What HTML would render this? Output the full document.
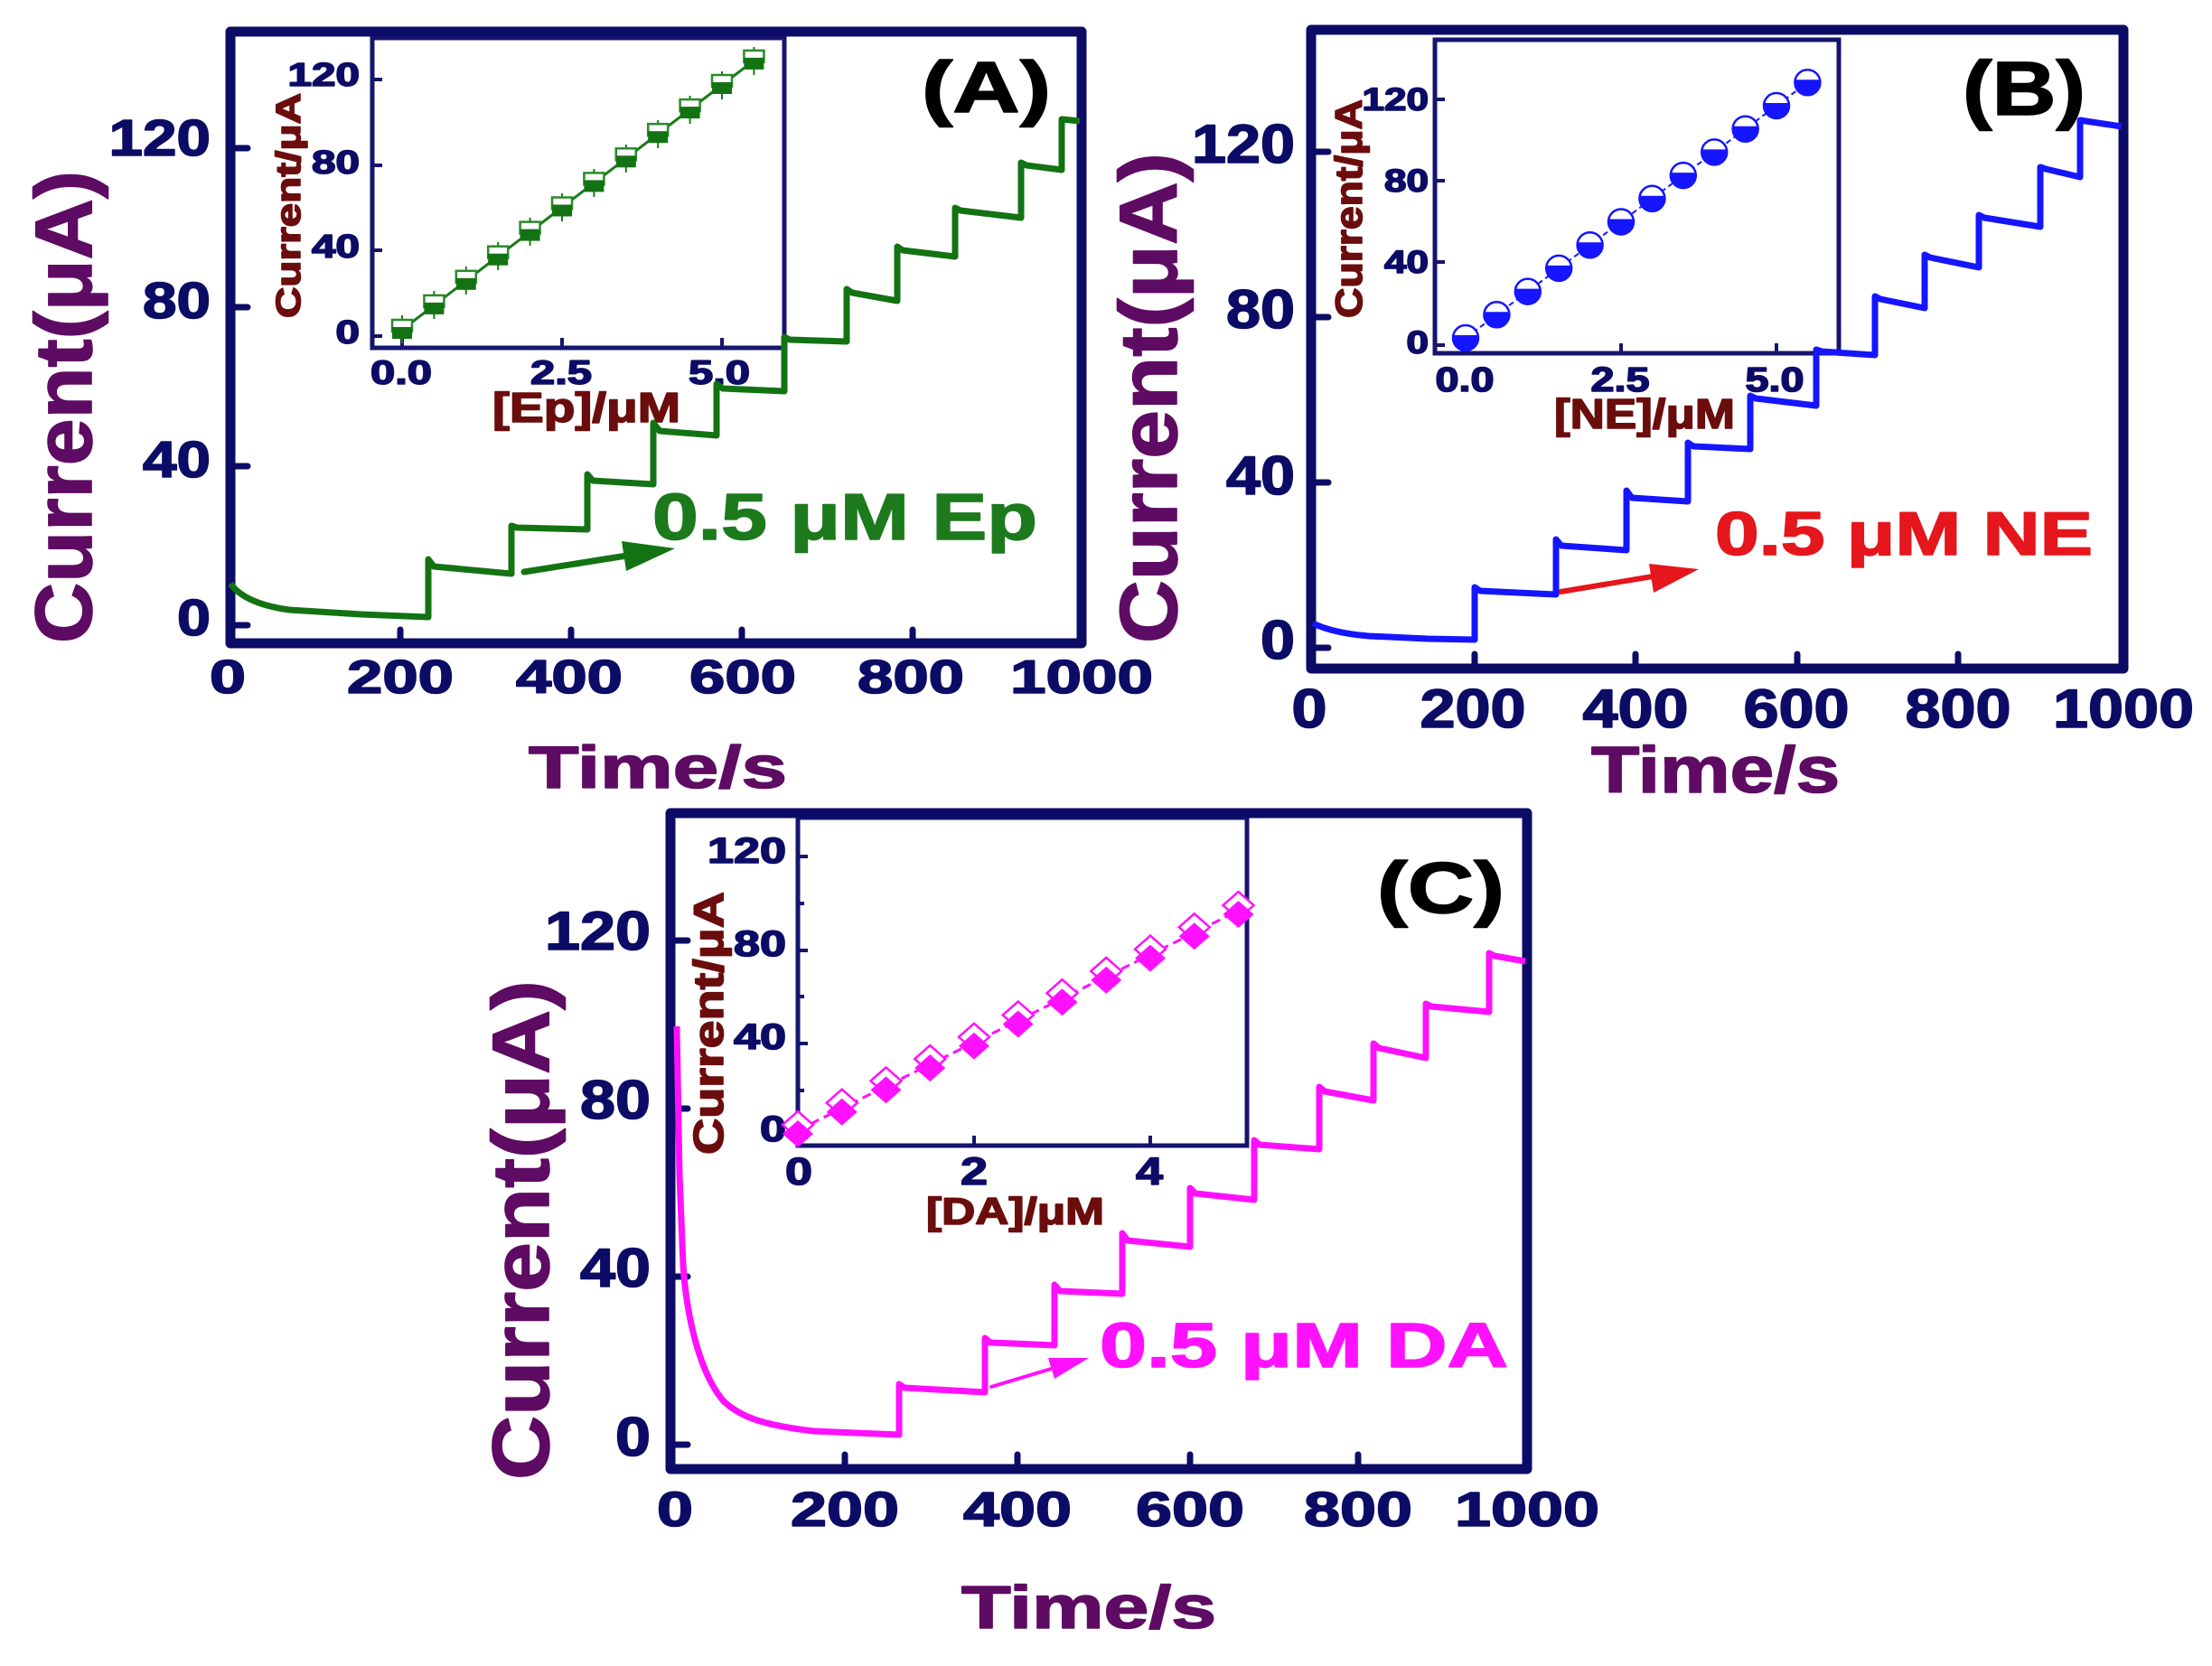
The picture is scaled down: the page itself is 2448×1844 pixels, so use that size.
<!DOCTYPE html>
<html>
<head>
<meta charset="utf-8">
<style>
html,body{margin:0;padding:0;background:#fff;}
svg{display:block;}
text{font-family:"Liberation Sans",Arial,sans-serif;font-weight:bold;stroke-width:1.6;stroke-linejoin:round;}
</style>
</head>
<body>
<svg width="2448" height="1844" viewBox="0 0 2448 1844" xmlns="http://www.w3.org/2000/svg">
<rect x="0" y="0" width="2448" height="1844" fill="#ffffff"/>

<!-- ===================== PANEL A ===================== -->
<g>
  <rect x="412" y="42" width="456" height="343" fill="none" stroke="#15156e" stroke-width="5"/>
  <g stroke="#15156e" stroke-width="4">
    <line x1="414" y1="88" x2="423" y2="88"/>
    <line x1="414" y1="183" x2="423" y2="183"/>
    <line x1="414" y1="277" x2="423" y2="277"/>
    <line x1="414" y1="372" x2="423" y2="372"/>
    <line x1="445" y1="383" x2="445" y2="374"/>
    <line x1="622" y1="383" x2="622" y2="374"/>
    <line x1="799" y1="383" x2="799" y2="374"/>
  </g>
  <g fill="#0c0c66" stroke="#0c0c66" font-size="36">
    <text x="318.5" y="95" textLength="79.5" lengthAdjust="spacingAndGlyphs">120</text>
    <text x="345" y="192" textLength="53" lengthAdjust="spacingAndGlyphs">80</text>
    <text x="345" y="285" textLength="53" lengthAdjust="spacingAndGlyphs">40</text>
    <text x="371.5" y="380" textLength="26.5" lengthAdjust="spacingAndGlyphs">0</text>
  </g>
  <g fill="#0c0c66" stroke="#0c0c66" font-size="37">
    <text x="410" y="425" textLength="68" lengthAdjust="spacingAndGlyphs">0.0</text>
    <text x="587" y="425" textLength="68" lengthAdjust="spacingAndGlyphs">2.5</text>
    <text x="762" y="425" textLength="68" lengthAdjust="spacingAndGlyphs">5.0</text>
  </g>
  <text x="545" y="467" font-size="46" fill="#6b0d0d" stroke="#6b0d0d" textLength="208" lengthAdjust="spacingAndGlyphs">[Ep]/μM</text>
  <text transform="translate(332,352) rotate(-90)" x="0" y="0" font-size="38" fill="#6b0d0d" stroke="#6b0d0d" textLength="249" lengthAdjust="spacingAndGlyphs">Current/μA</text>
  <polyline fill="none" stroke="#1a7a1a" stroke-width="3" points="445,365 480.4,337.9 515.8,310.8 551.2,283.7 586.6,256.6 622,229.5 657.4,202.4 692.8,175.3 728.2,148.2 763.6,121.1 799,94 834.4,66.9"/>
  <g stroke="#1a7a1a" stroke-width="2">
    <line x1="445" y1="349" x2="445" y2="380"/>
    <line x1="480.4" y1="322" x2="480.4" y2="353"/>
    <line x1="515.8" y1="295" x2="515.8" y2="326"/>
    <line x1="551.2" y1="268" x2="551.2" y2="299"/>
    <line x1="586.6" y1="241" x2="586.6" y2="272"/>
    <line x1="622" y1="214" x2="622" y2="245"/>
    <line x1="657.4" y1="187" x2="657.4" y2="218"/>
    <line x1="692.8" y1="160" x2="692.8" y2="191"/>
    <line x1="728.2" y1="133" x2="728.2" y2="164"/>
    <line x1="763.6" y1="106" x2="763.6" y2="137"/>
    <line x1="799" y1="79" x2="799" y2="110"/>
    <line x1="834.4" y1="52" x2="834.4" y2="83"/>
  </g>
  <g fill="#ffffff" stroke="#2a8a2a" stroke-width="2.5">
    <rect x="434" y="354" width="22" height="13"/>
    <rect x="469.4" y="326.9" width="22" height="13"/>
    <rect x="504.8" y="299.8" width="22" height="13"/>
    <rect x="540.2" y="272.7" width="22" height="13"/>
    <rect x="575.6" y="245.6" width="22" height="13"/>
    <rect x="611" y="218.5" width="22" height="13"/>
    <rect x="646.4" y="191.4" width="22" height="13"/>
    <rect x="681.8" y="164.3" width="22" height="13"/>
    <rect x="717.2" y="137.2" width="22" height="13"/>
    <rect x="752.6" y="110.1" width="22" height="13"/>
    <rect x="788" y="83" width="22" height="13"/>
    <rect x="823.4" y="55.9" width="22" height="13"/>
  </g>
  <g fill="#137313">
    <rect x="434" y="362" width="22" height="13"/>
    <rect x="469.4" y="334.9" width="22" height="13"/>
    <rect x="504.8" y="307.8" width="22" height="13"/>
    <rect x="540.2" y="280.7" width="22" height="13"/>
    <rect x="575.6" y="253.6" width="22" height="13"/>
    <rect x="611" y="226.5" width="22" height="13"/>
    <rect x="646.4" y="199.4" width="22" height="13"/>
    <rect x="681.8" y="172.3" width="22" height="13"/>
    <rect x="717.2" y="145.2" width="22" height="13"/>
    <rect x="752.6" y="118.1" width="22" height="13"/>
    <rect x="788" y="91" width="22" height="13"/>
    <rect x="823.4" y="63.9" width="22" height="13"/>
  </g>

  <rect x="255" y="35" width="942" height="677" fill="none" stroke="#0c0c66" stroke-width="11" stroke-linejoin="round"/>
  <g stroke="#0c0c66" stroke-width="7" stroke-linecap="round">
    <line x1="260" y1="164" x2="274" y2="164"/>
    <line x1="260" y1="340" x2="274" y2="340"/>
    <line x1="260" y1="516" x2="274" y2="516"/>
    <line x1="260" y1="692" x2="274" y2="692"/>
    <line x1="443" y1="707" x2="443" y2="697"/>
    <line x1="632" y1="707" x2="632" y2="697"/>
    <line x1="821" y1="707" x2="821" y2="697"/>
    <line x1="1010" y1="707" x2="1010" y2="697"/>
  </g>
  <g fill="#0c0c66" stroke="#0c0c66" font-size="57">
    <text x="120.5" y="172" textLength="112.5" lengthAdjust="spacingAndGlyphs">120</text>
    <text x="158" y="352" textLength="75" lengthAdjust="spacingAndGlyphs">80</text>
    <text x="158" y="528" textLength="75" lengthAdjust="spacingAndGlyphs">40</text>
    <text x="196" y="703" textLength="37" lengthAdjust="spacingAndGlyphs">0</text>
  </g>
  <g fill="#0c0c66" stroke="#0c0c66" font-size="52">
    <text x="232" y="767" textLength="40" lengthAdjust="spacingAndGlyphs">0</text>
    <text x="384" y="767" textLength="118" lengthAdjust="spacingAndGlyphs">200</text>
    <text x="571" y="767" textLength="118" lengthAdjust="spacingAndGlyphs">400</text>
    <text x="763" y="767" textLength="118" lengthAdjust="spacingAndGlyphs">600</text>
    <text x="949" y="767" textLength="118" lengthAdjust="spacingAndGlyphs">800</text>
    <text x="1118" y="767" textLength="158" lengthAdjust="spacingAndGlyphs">1000</text>
  </g>
  <text x="585" y="872" font-size="66" fill="#5e0b63" stroke="#5e0b63" textLength="286" lengthAdjust="spacingAndGlyphs">Time/s</text>
  <text transform="translate(101,712) rotate(-90)" x="0" y="0" font-size="89" fill="#5e0b63" stroke="#5e0b63" textLength="523" lengthAdjust="spacingAndGlyphs">Current(μA)</text>
  <text x="1020" y="124" font-size="80" fill="#000000" stroke="#000000" textLength="143" lengthAdjust="spacingAndGlyphs">(A)</text>
  <text x="722" y="597" font-size="72" fill="#1c7a1c" stroke="#1c7a1c" textLength="426" lengthAdjust="spacingAndGlyphs">0.5 μM Ep</text>
  <line x1="580" y1="633" x2="700" y2="614" stroke="#137313" stroke-width="7" stroke-linecap="round"/>
  <polygon points="747,607 688,599 693,632" fill="#137313"/>
  <path d="M 255 646 C 265 660, 285 670, 320 675 L 400 680 L 474 683 L 474 619 L 480 627 L 566 635 L 566 582 L 572 584 L 650 586 L 650 525 L 656 532 L 723 536 L 723 468 L 730 477 L 793 482 L 793 425 L 800 430 L 868 433 L 868 373 L 874 376 L 937 378 L 937 320 L 943 324 L 993 333 L 993 273 L 999 277 L 1057 284 L 1057 230 L 1063 233 L 1130 241 L 1130 180 L 1136 183 L 1175 188 L 1175 132 L 1195 134" fill="none" stroke="#137313" stroke-width="7" stroke-linejoin="round"/>
</g>

<!-- ===================== PANEL B ===================== -->
<g>
  <rect x="1588" y="44" width="447" height="347" fill="none" stroke="#15156e" stroke-width="5"/>
  <g stroke="#15156e" stroke-width="4">
    <line x1="1590" y1="110" x2="1599" y2="110"/>
    <line x1="1590" y1="200" x2="1599" y2="200"/>
    <line x1="1590" y1="290" x2="1599" y2="290"/>
    <line x1="1590" y1="382" x2="1599" y2="382"/>
    <line x1="1622" y1="389" x2="1622" y2="380"/>
    <line x1="1794" y1="389" x2="1794" y2="380"/>
    <line x1="1966" y1="389" x2="1966" y2="380"/>
  </g>
  <g fill="#0c0c66" stroke="#0c0c66" font-size="35">
    <text x="1507.5" y="122" textLength="73.5" lengthAdjust="spacingAndGlyphs">120</text>
    <text x="1532" y="212" textLength="49" lengthAdjust="spacingAndGlyphs">80</text>
    <text x="1532" y="302" textLength="49" lengthAdjust="spacingAndGlyphs">40</text>
    <text x="1556.5" y="391" textLength="24.5" lengthAdjust="spacingAndGlyphs">0</text>
  </g>
  <g fill="#0c0c66" stroke="#0c0c66" font-size="38">
    <text x="1588.5" y="433" textLength="65" lengthAdjust="spacingAndGlyphs">0.0</text>
    <text x="1760.5" y="433" textLength="65" lengthAdjust="spacingAndGlyphs">2.5</text>
    <text x="1931.5" y="433" textLength="65" lengthAdjust="spacingAndGlyphs">5.0</text>
  </g>
  <text x="1720" y="474" font-size="46" fill="#6b0d0d" stroke="#6b0d0d" textLength="200" lengthAdjust="spacingAndGlyphs">[NE]/μM</text>
  <text transform="translate(1507,352) rotate(-90)" x="0" y="0" font-size="42" fill="#6b0d0d" stroke="#6b0d0d" textLength="242" lengthAdjust="spacingAndGlyphs">Current/μA</text>
  <polyline fill="none" stroke="#1515ff" stroke-width="2" stroke-dasharray="6 4" points="1622,374 1656.4,348.3 1690.8,322.6 1725.2,296.9 1759.6,271.2 1794,245.5 1828.4,219.8 1862.8,194.1 1897.2,168.4 1931.6,142.7 1966,117 2000.4,91.3"/>
  <g fill="#ffffff" stroke="#1515ff" stroke-width="2.5">
    <circle cx="1622" cy="374" r="14"/>
    <circle cx="1656.4" cy="348.3" r="14"/>
    <circle cx="1690.8" cy="322.6" r="14"/>
    <circle cx="1725.2" cy="296.9" r="14"/>
    <circle cx="1759.6" cy="271.2" r="14"/>
    <circle cx="1794" cy="245.5" r="14"/>
    <circle cx="1828.4" cy="219.8" r="14"/>
    <circle cx="1862.8" cy="194.1" r="14"/>
    <circle cx="1897.2" cy="168.4" r="14"/>
    <circle cx="1931.6" cy="142.7" r="14"/>
    <circle cx="1966" cy="117" r="14"/>
    <circle cx="2000.4" cy="91.3" r="14"/>
  </g>
  <g fill="#1515ff">
    <path d="M 1608.3 371 A 14 14 0 1 0 1635.7 371 Z"/>
    <path d="M 1642.7 345.3 A 14 14 0 1 0 1670.1 345.3 Z"/>
    <path d="M 1677.1 319.6 A 14 14 0 1 0 1704.5 319.6 Z"/>
    <path d="M 1711.5 293.9 A 14 14 0 1 0 1738.9 293.9 Z"/>
    <path d="M 1745.9 268.2 A 14 14 0 1 0 1773.3 268.2 Z"/>
    <path d="M 1780.3 242.5 A 14 14 0 1 0 1807.7 242.5 Z"/>
    <path d="M 1814.7 216.8 A 14 14 0 1 0 1842.1 216.8 Z"/>
    <path d="M 1849.1 191.1 A 14 14 0 1 0 1876.5 191.1 Z"/>
    <path d="M 1883.5 165.4 A 14 14 0 1 0 1910.9 165.4 Z"/>
    <path d="M 1917.9 139.7 A 14 14 0 1 0 1945.3 139.7 Z"/>
    <path d="M 1952.3 114 A 14 14 0 1 0 1979.7 114 Z"/>
    <path d="M 1986.7 88.3 A 14 14 0 1 0 2014.1 88.3 Z"/>
  </g>

  <rect x="1451" y="33" width="899" height="707" fill="none" stroke="#0c0c66" stroke-width="11" stroke-linejoin="round"/>
  <g stroke="#0c0c66" stroke-width="7" stroke-linecap="round">
    <line x1="1456" y1="168" x2="1470" y2="168"/>
    <line x1="1456" y1="351" x2="1470" y2="351"/>
    <line x1="1456" y1="534" x2="1470" y2="534"/>
    <line x1="1456" y1="717" x2="1470" y2="717"/>
    <line x1="1632" y1="735" x2="1632" y2="724"/>
    <line x1="1810" y1="735" x2="1810" y2="724"/>
    <line x1="1989" y1="735" x2="1989" y2="724"/>
    <line x1="2167" y1="735" x2="2167" y2="724"/>
  </g>
  <g fill="#0c0c66" stroke="#0c0c66" font-size="60">
    <text x="1319" y="180" textLength="114" lengthAdjust="spacingAndGlyphs">120</text>
    <text x="1357" y="363" textLength="76" lengthAdjust="spacingAndGlyphs">80</text>
    <text x="1357" y="547" textLength="76" lengthAdjust="spacingAndGlyphs">40</text>
    <text x="1395" y="729" textLength="38" lengthAdjust="spacingAndGlyphs">0</text>
  </g>
  <g fill="#0c0c66" stroke="#0c0c66" font-size="60">
    <text x="1429.5" y="805" textLength="39" lengthAdjust="spacingAndGlyphs">0</text>
    <text x="1571.5" y="805" textLength="117" lengthAdjust="spacingAndGlyphs">200</text>
    <text x="1751.5" y="805" textLength="117" lengthAdjust="spacingAndGlyphs">400</text>
    <text x="1929.5" y="805" textLength="117" lengthAdjust="spacingAndGlyphs">600</text>
    <text x="2108.5" y="805" textLength="117" lengthAdjust="spacingAndGlyphs">800</text>
    <text x="2272" y="805" textLength="156" lengthAdjust="spacingAndGlyphs">1000</text>
  </g>
  <text x="1761" y="877" font-size="72" fill="#5e0b63" stroke="#5e0b63" textLength="275" lengthAdjust="spacingAndGlyphs">Time/s</text>
  <text transform="translate(1302,712) rotate(-90)" x="0" y="0" font-size="90" fill="#5e0b63" stroke="#5e0b63" textLength="543" lengthAdjust="spacingAndGlyphs">Current(μA)</text>
  <text x="2172" y="127" font-size="84" fill="#000000" stroke="#000000" textLength="136" lengthAdjust="spacingAndGlyphs">(B)</text>
  <text x="1898" y="614" font-size="68" fill="#e5161c" stroke="#e5161c" textLength="418" lengthAdjust="spacingAndGlyphs">0.5 μM NE</text>
  <line x1="1727" y1="655" x2="1835" y2="637" stroke="#e5161c" stroke-width="6" stroke-linecap="round"/>
  <polygon points="1880,630 1825,624 1830,656" fill="#e5161c"/>
  <path d="M 1453 690 C 1470 698, 1490 702, 1515 704 L 1580 707 L 1632 708 L 1632 650 L 1638 654 L 1722 658 L 1722 597 L 1728 604 L 1800 609 L 1800 543 L 1806 551 L 1868 555 L 1868 490 L 1874 494 L 1937 497 L 1937 438 L 1943 441 L 2010 449 L 2010 387 L 2016 389 L 2075 393 L 2075 328 L 2081 331 L 2130 341 L 2130 282 L 2136 285 L 2190 296 L 2190 238 L 2196 241 L 2258 251 L 2258 185 L 2264 187 L 2302 196 L 2302 133 L 2308 134 L 2348 140" fill="none" stroke="#1515ff" stroke-width="7" stroke-linejoin="round"/>
</g>

<!-- ===================== PANEL C ===================== -->
<g>
  <rect x="883" y="905" width="497" height="363" fill="none" stroke="#15156e" stroke-width="5"/>
  <g stroke="#15156e" stroke-width="4">
    <line x1="885" y1="948" x2="894" y2="948"/>
    <line x1="885" y1="1052" x2="894" y2="1052"/>
    <line x1="885" y1="1155" x2="894" y2="1155"/>
    <line x1="885" y1="1259" x2="894" y2="1259"/>
    <line x1="885" y1="1000" x2="890" y2="1000"/>
    <line x1="885" y1="1103" x2="890" y2="1103"/>
    <line x1="885" y1="1207" x2="890" y2="1207"/>
    <line x1="1078" y1="1266" x2="1078" y2="1257"/>
    <line x1="1273" y1="1266" x2="1273" y2="1257"/>
  </g>
  <g fill="#0c0c66" stroke="#0c0c66" font-size="40">
    <text x="783" y="955" textLength="87" lengthAdjust="spacingAndGlyphs">120</text>
    <text x="812" y="1058" textLength="58" lengthAdjust="spacingAndGlyphs">80</text>
    <text x="812" y="1161" textLength="58" lengthAdjust="spacingAndGlyphs">40</text>
    <text x="841" y="1263" textLength="29" lengthAdjust="spacingAndGlyphs">0</text>
  </g>
  <g fill="#0c0c66" stroke="#0c0c66" font-size="43">
    <text x="869" y="1311" textLength="30" lengthAdjust="spacingAndGlyphs">0</text>
    <text x="1063" y="1311" textLength="30" lengthAdjust="spacingAndGlyphs">2</text>
    <text x="1257" y="1311" textLength="30" lengthAdjust="spacingAndGlyphs">4</text>
  </g>
  <text x="1025" y="1355" font-size="42" fill="#6b0d0d" stroke="#6b0d0d" textLength="197" lengthAdjust="spacingAndGlyphs">[DA]/μM</text>
  <text transform="translate(800,1278) rotate(-90)" x="0" y="0" font-size="46" fill="#6b0d0d" stroke="#6b0d0d" textLength="291" lengthAdjust="spacingAndGlyphs">Current/μA</text>
  <polyline fill="none" stroke="#ff10ff" stroke-width="3" stroke-dasharray="10 6" points="883,1251 931.75,1226.7 980.5,1202.4 1029.25,1178.1 1078,1153.8 1126.75,1129.5 1175.5,1105.2 1224.25,1080.9 1273,1056.6 1321.75,1032.3 1370.5,1008"/>
  <g fill="#ffffff" stroke="#ff10ff" stroke-width="2.5">
    <polygon points="883,1230 900,1245 883,1260 866,1245"/>
    <polygon points="931.75,1205.7 948.75,1220.7 931.75,1235.7 914.75,1220.7"/>
    <polygon points="980.5,1181.4 997.5,1196.4 980.5,1211.4 963.5,1196.4"/>
    <polygon points="1029.25,1157.1 1046.25,1172.1 1029.25,1187.1 1012.25,1172.1"/>
    <polygon points="1078,1132.8 1095,1147.8 1078,1162.8 1061,1147.8"/>
    <polygon points="1126.75,1108.5 1143.75,1123.5 1126.75,1138.5 1109.75,1123.5"/>
    <polygon points="1175.5,1084.2 1192.5,1099.2 1175.5,1114.2 1158.5,1099.2"/>
    <polygon points="1224.25,1059.9 1241.25,1074.9 1224.25,1089.9 1207.25,1074.9"/>
    <polygon points="1273,1035.6 1290,1050.6 1273,1065.6 1256,1050.6"/>
    <polygon points="1321.75,1011.3 1338.75,1026.3 1321.75,1041.3 1304.75,1026.3"/>
    <polygon points="1370.5,987 1387.5,1002 1370.5,1017 1353.5,1002"/>
  </g>
  <g fill="#ff10ff">
    <polygon points="883,1240 900,1255 883,1270 866,1255"/>
    <polygon points="931.75,1215.7 948.75,1230.7 931.75,1245.7 914.75,1230.7"/>
    <polygon points="980.5,1191.4 997.5,1206.4 980.5,1221.4 963.5,1206.4"/>
    <polygon points="1029.25,1167.1 1046.25,1182.1 1029.25,1197.1 1012.25,1182.1"/>
    <polygon points="1078,1142.8 1095,1157.8 1078,1172.8 1061,1157.8"/>
    <polygon points="1126.75,1118.5 1143.75,1133.5 1126.75,1148.5 1109.75,1133.5"/>
    <polygon points="1175.5,1094.2 1192.5,1109.2 1175.5,1124.2 1158.5,1109.2"/>
    <polygon points="1224.25,1069.9 1241.25,1084.9 1224.25,1099.9 1207.25,1084.9"/>
    <polygon points="1273,1045.6 1290,1060.6 1273,1075.6 1256,1060.6"/>
    <polygon points="1321.75,1021.3 1338.75,1036.3 1321.75,1051.3 1304.75,1036.3"/>
    <polygon points="1370.5,997 1387.5,1012 1370.5,1027 1353.5,1012"/>
  </g>

  <rect x="742" y="900" width="948" height="726" fill="none" stroke="#0c0c66" stroke-width="11" stroke-linejoin="round"/>
  <g stroke="#0c0c66" stroke-width="7" stroke-linecap="round">
    <line x1="747" y1="1041" x2="761" y2="1041"/>
    <line x1="747" y1="1227" x2="761" y2="1227"/>
    <line x1="747" y1="1413" x2="761" y2="1413"/>
    <line x1="747" y1="1599" x2="761" y2="1599"/>
    <line x1="935" y1="1621" x2="935" y2="1610"/>
    <line x1="1126" y1="1621" x2="1126" y2="1610"/>
    <line x1="1317" y1="1621" x2="1317" y2="1610"/>
    <line x1="1503" y1="1621" x2="1503" y2="1610"/>
  </g>
  <g fill="#0c0c66" stroke="#0c0c66" font-size="60">
    <text x="603" y="1051" textLength="117" lengthAdjust="spacingAndGlyphs">120</text>
    <text x="642" y="1238" textLength="78" lengthAdjust="spacingAndGlyphs">80</text>
    <text x="642" y="1424" textLength="78" lengthAdjust="spacingAndGlyphs">40</text>
    <text x="681" y="1611" textLength="39" lengthAdjust="spacingAndGlyphs">0</text>
  </g>
  <g fill="#0c0c66" stroke="#0c0c66" font-size="54">
    <text x="727" y="1689" textLength="40" lengthAdjust="spacingAndGlyphs">0</text>
    <text x="875" y="1689" textLength="120" lengthAdjust="spacingAndGlyphs">200</text>
    <text x="1066" y="1689" textLength="120" lengthAdjust="spacingAndGlyphs">400</text>
    <text x="1257" y="1689" textLength="120" lengthAdjust="spacingAndGlyphs">600</text>
    <text x="1443" y="1689" textLength="120" lengthAdjust="spacingAndGlyphs">800</text>
    <text x="1610" y="1689" textLength="160" lengthAdjust="spacingAndGlyphs">1000</text>
  </g>
  <text x="1064" y="1802" font-size="67" fill="#5e0b63" stroke="#5e0b63" textLength="282" lengthAdjust="spacingAndGlyphs">Time/s</text>
  <text transform="translate(607,1638) rotate(-90)" x="0" y="0" font-size="89" fill="#5e0b63" stroke="#5e0b63" textLength="553" lengthAdjust="spacingAndGlyphs">Current(μA)</text>
  <text x="1524" y="1010" font-size="80" fill="#000000" stroke="#000000" textLength="141" lengthAdjust="spacingAndGlyphs">(C)</text>
  <text x="1217" y="1513" font-size="70" fill="#ff10ff" stroke="#ff10ff" textLength="452" lengthAdjust="spacingAndGlyphs">0.5 μM DA</text>
  <line x1="1097" y1="1535" x2="1170" y2="1513" stroke="#ff10ff" stroke-width="4" stroke-linecap="round"/>
  <polygon points="1205,1503 1160,1503 1167,1526" fill="#ff10ff"/>
  <path d="M 749 1136 L 752 1300 L 756 1400 C 760 1460, 775 1520, 800 1550 C 820 1570, 850 1578, 900 1584 L 995 1588 L 995 1532 L 1001 1536 L 1090 1541 L 1090 1481 L 1096 1486 L 1167 1489 L 1167 1422 L 1173 1429 L 1242 1432 L 1242 1365 L 1248 1373 L 1317 1380 L 1317 1315 L 1323 1321 L 1388 1328 L 1388 1262 L 1394 1267 L 1460 1272 L 1460 1203 L 1466 1208 L 1520 1218 L 1520 1155 L 1526 1160 L 1578 1171 L 1578 1111 L 1584 1114 L 1648 1120 L 1648 1055 L 1654 1058 L 1688 1064" fill="none" stroke="#ff10ff" stroke-width="7" stroke-linejoin="round"/>
</g>
</svg>
</body>
</html>
